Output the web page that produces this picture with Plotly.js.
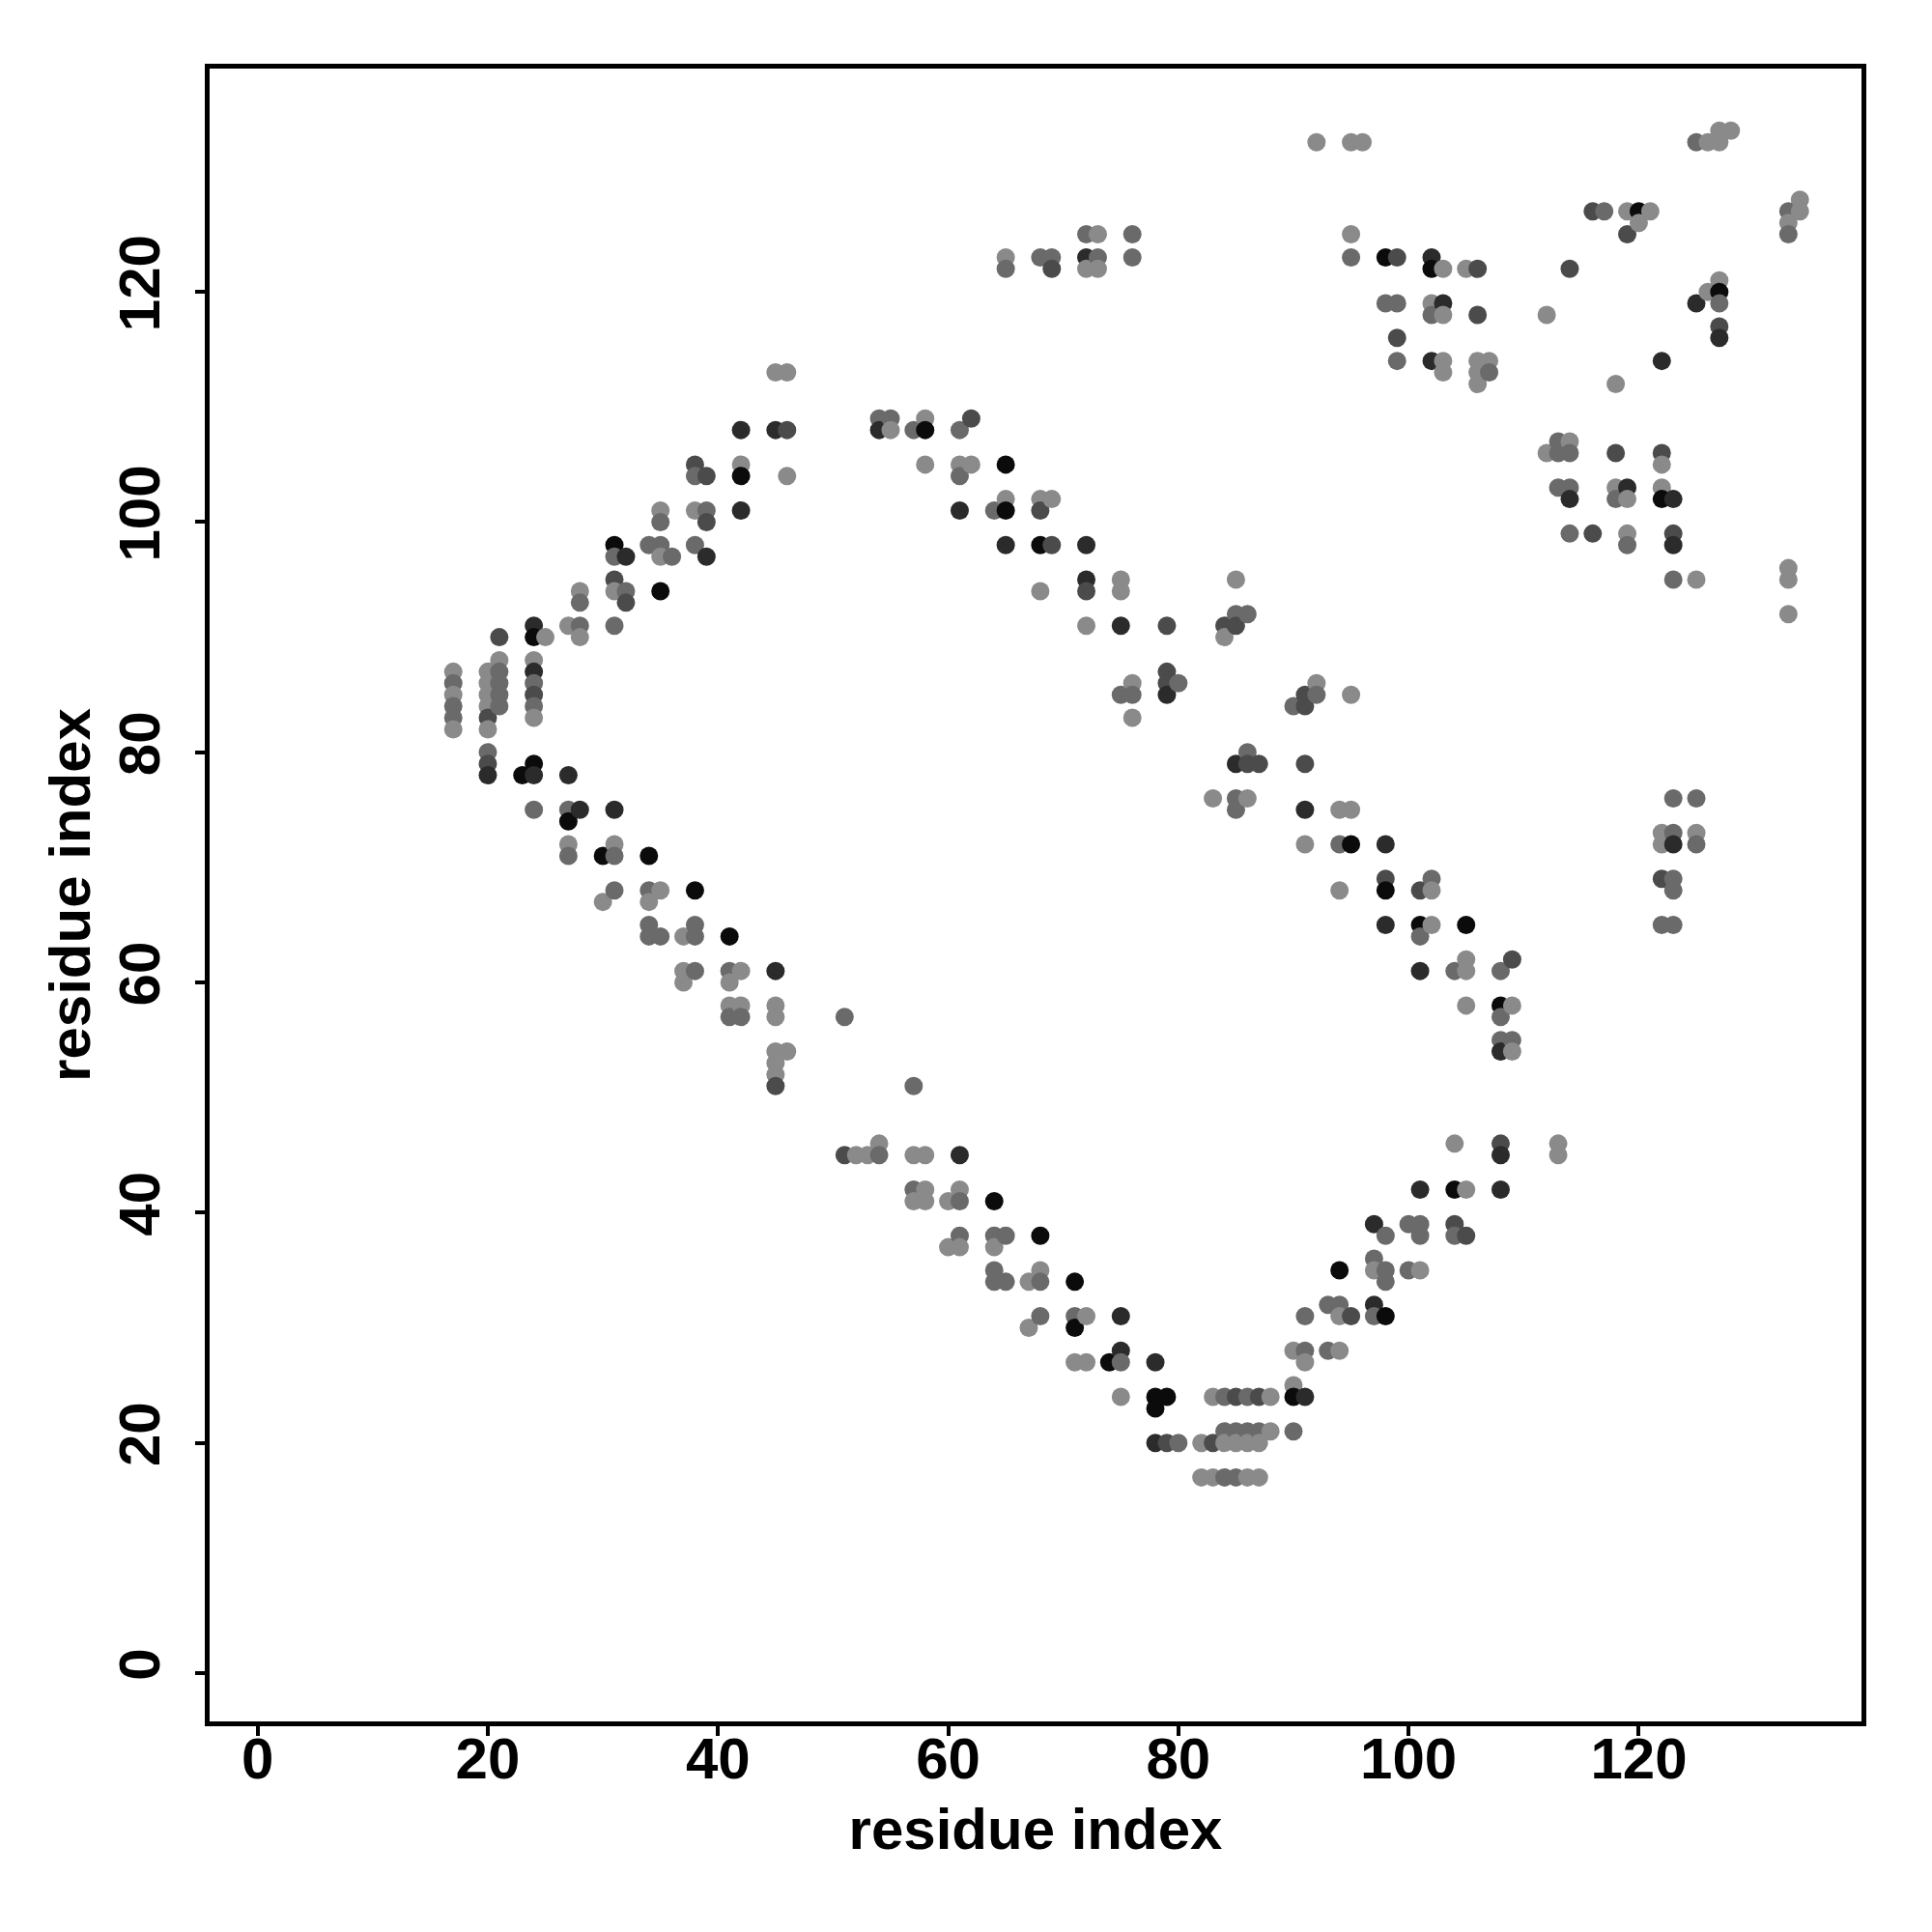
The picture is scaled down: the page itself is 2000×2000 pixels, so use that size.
<!DOCTYPE html>
<html>
<head>
<meta charset="utf-8">
<script src="https://cdn.plot.ly/plotly-3.0.1.min.js"></script>
<style>
  html, body { margin: 0; padding: 0; background: #ffffff; }
  #chart { width: 2000px; height: 2000px; }
</style>
</head>
<body>
<div id="chart"></div>
<script>
// residue i (x) and, for each, its contact partners j (y) with a shade level (0 = darkest, 4 = lightest)
const residueI = [17,20,21,23,24,25,27,28,30,31,32,34,35,36,37,38,39,41,42,45,46,51,52,53,54,55,57,58,60,61,62,64,65,67,68,69,71,72,73,74,75,76,78,79,80,82,83,84,85,86,87,88,90,91,92,93,94,95,96,97,98,99,100,101,102,103,104,105,106,107,108,109,112,113,114,116,117,118,119,120,121,122,123,125,126,127,128,133,134];

const partnersJ = [
  [87,86,85,84,83,82],
  [87,86,85,84,83,82,80,79,78],
  [90,88,87,86,85,84],
  [78],
  [91,90,88,87,86,85,84,83,79,78,75],
  [90],
  [91,78,75,74,72,71],
  [94,93,91,90,75],
  [71,67],
  [98,97,95,94,91,75,72,71,68],
  [97,94,93],
  [98,71,68,67,65,64],
  [101,100,98,97,94,68,64],
  [97],
  [64,61,60],
  [105,104,101,98,68,65,64,61],
  [104,101,100,97],
  [64,61,60,58,57],
  [108,105,104,101,61,58,57],
  [113,108,61,58,57,54,53,52,51],
  [113,108,104,54],
  [57,45],
  [45],
  [45],
  [109,108,46,45],
  [109,108],
  [108,51,45,42,41],
  [109,108,105,45,42,41],
  [41,37],
  [108,105,104,101,45,42,41,38,37],
  [109,105],
  [101,41,38,37,35,34],
  [123,122,105,102,101,98,38,34],
  [34,30],
  [123,102,101,98,94,38,35,34,31],
  [123,122,102,98],
  [34,31,30,27],
  [125,123,122,98,95,94,91,31,27],
  [125,123,122],
  [27],
  [95,94,91,85,31,28,27,24],
  [125,123,86,85,83],
  [27,24,23,20],
  [91,87,86,85,24,20],
  [86,20],
  [20,17],
  [76,24,20,17],
  [91,90,24,21,20,17],
  [95,92,91,79,76,75,24,21,20,17],
  [92,80,79,76,24,21,20,17],
  [79,24,21,20,17],
  [24,21],
  [84,28,25,24,21],
  [85,84,79,75,72,31,28,27,24],
  [133,86,85],
  [32,28],
  [75,72,68,35,32,31,28],
  [133,125,123,85,75,72,31],
  [133],
  [39,36,35,32,31],
  [123,119,72,69,68,65,38,35,34,31],
  [123,119,116,114],
  [39,35],
  [68,65,64,61,42,39,38,35],
  [123,122,119,118,114,69,68,65],
  [122,119,118,114,113],
  [61,46,42,39,38],
  [122,65,62,61,58,42,38],
  [122,118,114,113,112],
  [114,113],
  [61,58,57,55,54,46,45,42],
  [62,58,55,54],
  [118,106],
  [107,106,103,46,45],
  [122,107,106,103,102,99],
  [127,99],
  [127],
  [112,106,103,102],
  [127,125,103,102,99,98],
  [127,126],
  [127],
  [114,106,105,103,102,73,72,69,65],
  [102,99,98,95,76,73,72,69,68,65],
  [133,119,95,76,73,72],
  [133,120],
  [134,133,121,120,119,117,116],
  [134],
  [127,126,125,96,95,92],
  [128,127]
];

const shadeLevels = [
  [4,3,4,3,3,4],
  [4,4,4,4,2,4,3,2,1],
  [2,4,3,3,3,3],
  [0],
  [1,0,4,1,3,2,3,4,0,1,3],
  [4],
  [4,1,3,0,4,3],
  [4,3,3,4,1],
  [0,4],
  [0,3,2,4,3,1,4,3,3],
  [1,3,2],
  [3,0,3,4,3,3],
  [4,3,3,4,0,4,3],
  [3],
  [4,4,4],
  [2,3,4,3,0,3,3,3],
  [2,3,2,1],
  [0,3,4,4,3],
  [1,4,0,1,4,4,3],
  [4,1,1,4,4,4,4,4,2],
  [4,2,4,4],
  [3,2],
  [4],
  [4],
  [3,1,4,3],
  [3,4],
  [3,3,4,3,4],
  [4,0,4,4,4,4],
  [4,4],
  [3,4,3,1,1,4,3,3,4],
  [2,4],
  [3,0,3,4,3,3],
  [4,3,0,4,0,1,3,3],
  [4,4],
  [3,4,2,0,4,0,4,3,3],
  [3,2,4,2],
  [0,3,0,4],
  [3,1,4,1,1,2,4,4,4],
  [4,3,4],
  [0],
  [4,4,1,3,1,1,3,4],
  [3,3,4,3,4],
  [1,0,0,1],
  [2,2,2,1,0,2],
  [3,3],
  [4,4],
  [4,4,2,4],
  [2,4,3,3,4,3],
  [4,3,2,1,3,3,2,3,4,3],
  [3,3,2,4,3,3,4,4],
  [2,2,3,4,4],
  [4,4],
  [3,4,4,0,3],
  [2,2,2,1,4,3,3,4,1],
  [4,4,3],
  [3,3],
  [4,3,4,0,3,4,4],
  [4,4,3,4,4,0,2],
  [4],
  [1,3,4,1,3],
  [0,3,1,2,0,1,3,3,3,0],
  [2,3,2,3],
  [3,3],
  [2,0,3,1,1,3,3,4],
  [1,0,4,3,1,3,4,4],
  [4,1,4,4,4],
  [3,4,0,2,3],
  [4,0,4,4,4,4,2],
  [2,2,4,4,4],
  [4,3],
  [3,0,3,3,1,2,1,1],
  [2,4,3,4],
  [4,4],
  [3,3,3,4,4],
  [2,4,3,3,1,3],
  [2,2],
  [3],
  [4,2,4,3],
  [4,2,1,4,4,3],
  [0,4],
  [4],
  [1,2,4,4,0,4,4,2,3],
  [1,2,1,3,3,3,1,3,3,3],
  [3,1,4,3,4,3],
  [4,4],
  [4,4,4,0,3,2,1],
  [4],
  [3,4,3,4,4,4],
  [4,4]
];

const tickValues = [0, 20, 40, 60, 80, 100, 120];
const tickLabels = ['0', '20', '40', '60', '80', '100', '120'];
const axisLabel = 'residue index';

// flatten for the scatter trace
const xs = [], ys = [], cs = [];
residueI.forEach(function (i, k) {
  partnersJ[k].forEach(function (j, m) {
    xs.push(i);
    ys.push(j);
    cs.push(shadeLevels[k][m]);
  });
});

const fontFamily = 'Liberation Sans, Arial, Helvetica, sans-serif';

const trace = {
  type: 'scatter',
  mode: 'markers',
  x: xs,
  y: ys,
  marker: {
    size: 19,
    color: cs,
    cmin: 0,
    cmax: 4,
    colorscale: [[0, '#0b0b0b'], [1, '#8a8a8a']],
    showscale: false,
    line: { width: 0 }
  },
  hoverinfo: 'x+y'
};

const axisCommon = {
  tickvals: tickValues,
  ticktext: tickLabels,
  ticks: 'outside',
  ticklen: 10,
  tickwidth: 4,
  tickcolor: '#000000',
  showline: true,
  mirror: true,
  linewidth: 5,
  linecolor: '#000000',
  showgrid: false,
  zeroline: false,
  tickfont: { family: fontFamily, size: 60, color: '#000000', weight: 'bold' },
  automargin: false
};

const layout = {
  width: 2000,
  height: 2000,
  paper_bgcolor: '#ffffff',
  plot_bgcolor: '#ffffff',
  showlegend: false,
  margin: { l: 217, r: 73, t: 71, b: 218, pad: 0 },
  xaxis: Object.assign({}, axisCommon, {
    range: [-4.17, 139.35],
    ticklabelstandoff: -28,
    title: { text: axisLabel, font: { family: fontFamily, size: 60, color: '#000000', weight: 'bold' }, standoff: 20 }
  }),
  yaxis: Object.assign({}, axisCommon, {
    range: [-4.2, 139.4],
    tickangle: -90,
    ticklabelstandoff: 13,
    title: { text: axisLabel, font: { family: fontFamily, size: 60, color: '#000000', weight: 'bold' }, standoff: 0 }
  })
};

Plotly.newPlot('chart', [trace], layout, { displayModeBar: false, staticPlot: true });
</script>
</body>
</html>
